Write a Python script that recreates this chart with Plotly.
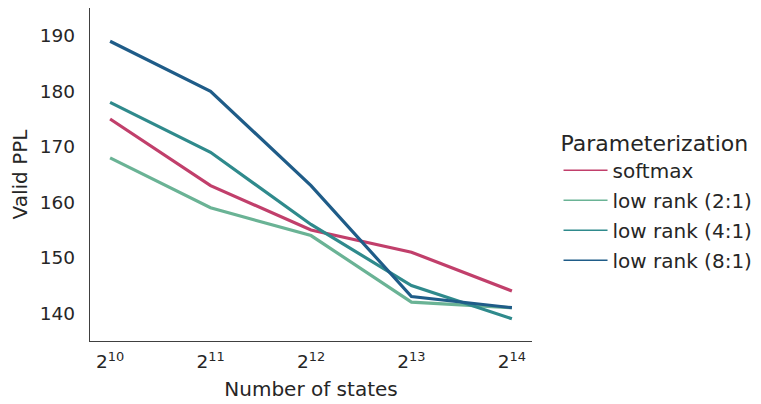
import plotly.graph_objects as go
import math

states = [1024, 2048, 4096, 8192, 16384]
tick_labels = ["2<sup>10</sup>", "2<sup>11</sup>", "2<sup>12</sup>", "2<sup>13</sup>", "2<sup>14</sup>"]
series_names = ["softmax", "low rank (2:1)", "low rank (4:1)", "low rank (8:1)"]
softmax = [175, 163, 155, 151, 144]
low_rank_2 = [168, 159, 154, 142, 141]
low_rank_4 = [178, 169, 156, 145, 139]
low_rank_8 = [189, 180, 163, 143, 141]
colors = ["#c13f6b", "#6ab395", "#2f8a8c", "#1f5c88"]

fig = go.Figure()
for name, vals, col in zip(series_names, [softmax, low_rank_2, low_rank_4, low_rank_8], colors):
    fig.add_trace(go.Scatter(x=states, y=vals, mode="lines", name=name, showlegend=False,
                             line=dict(color=col, width=3.2)))
# thin legend entries
for name, col in zip(series_names, colors):
    fig.add_trace(go.Scatter(x=[None], y=[None], mode="lines", name=name, legendgroup=name,
                             line=dict(color=col, width=1.6)))

font = "DejaVu Sans, sans-serif"
fig.update_layout(
    width=753, height=396,
    margin=dict(l=82, r=229, t=0, b=63),
    plot_bgcolor="white", paper_bgcolor="white",
    font=dict(family=font, size=18, color="#262626"),
    xaxis=dict(type="log", range=[math.log10(2**9.8), math.log10(2**14.2)],
               tickvals=states, ticktext=tick_labels, showgrid=False, zeroline=False,
               showline=True, linecolor="#404040", linewidth=1.3, ticks="",
               tickfont=dict(size=18.5), ticklabelstandoff=4,
               title=dict(text="Number of states", font=dict(size=20), standoff=10)),
    yaxis=dict(range=[135, 195], tickvals=[140, 150, 160, 170, 180, 190],
               showgrid=False, zeroline=False, showline=True, linecolor="#404040",
               linewidth=1.3, ticks="", tickfont=dict(size=18.5), ticklabelstandoff=10,
               title=dict(text="Valid PPL", font=dict(size=20), standoff=12)),
    legend=dict(x=1.06, y=0.42, xanchor="left", yanchor="middle",
                title=dict(text="Parameterization", font=dict(size=22), side="top"),
                font=dict(size=20), bgcolor="rgba(0,0,0,0)", tracegroupgap=1,
                itemwidth=44),
    showlegend=True,
)
fig.write_html("out.html")
